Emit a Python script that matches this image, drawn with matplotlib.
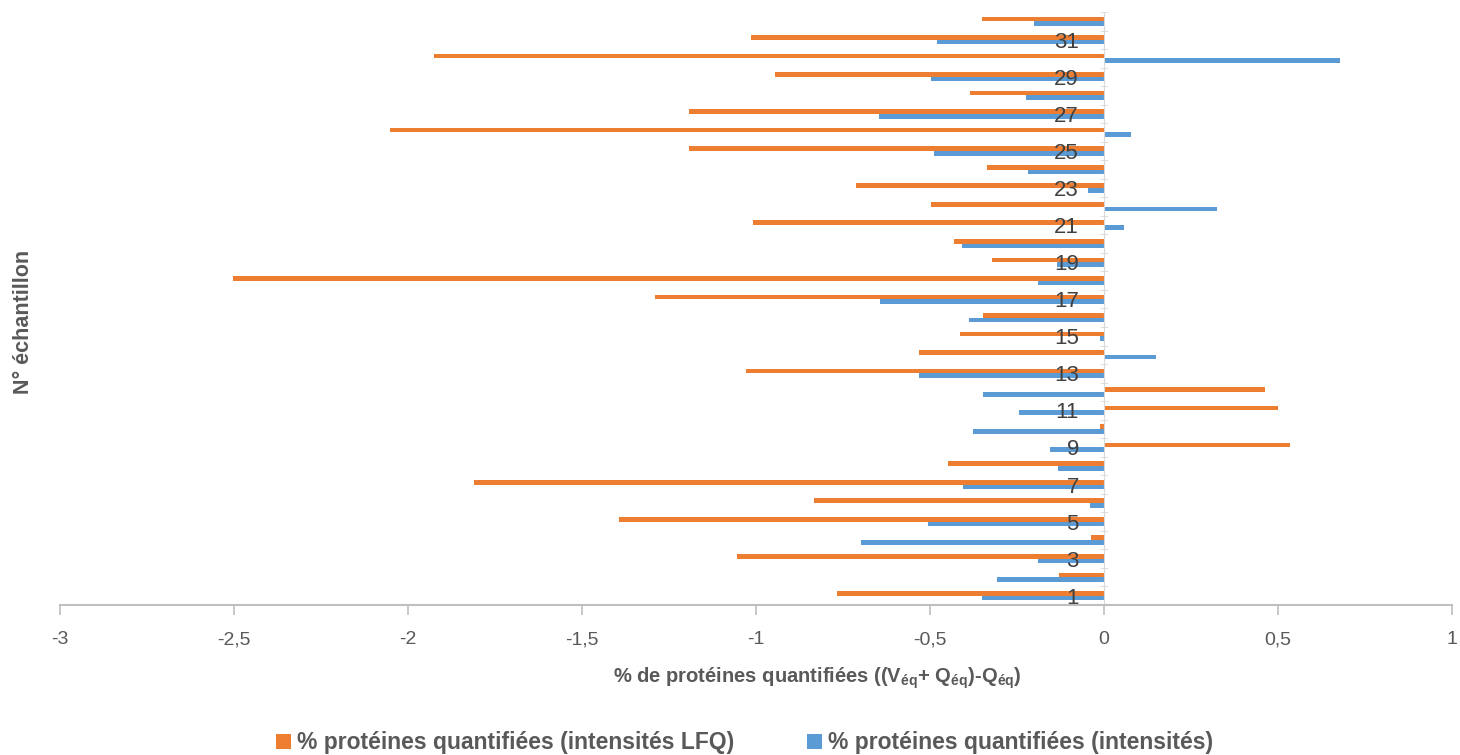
import numpy as np
import matplotlib.pyplot as plt
from matplotlib.ticker import FuncFormatter, FixedLocator

# Données (échantillons 1 à 32)
echantillons = np.arange(1, 33)
lfq = [-0.767, -0.13, -1.053, -0.036, -1.393, -0.832, -1.81, -0.449,
       0.535, -0.012, 0.50, 0.464, -1.027, -0.531, -0.414, -0.348,
       -1.29, -2.503, -0.322, -0.43, -1.009, -0.496, -0.712, -0.336,
       -1.192, -2.051, -1.192, -0.386, -0.945, -1.924, -1.013, -0.35]
intensites = [-0.351, -0.307, -0.19, -0.698, -0.506, -0.04, -0.405, -0.133,
              -0.156, -0.377, -0.243, -0.348, -0.531, 0.149, -0.01, -0.388,
              -0.644, -0.19, -0.136, -0.408, 0.057, 0.324, -0.045, -0.219,
              -0.489, 0.078, -0.646, -0.224, -0.496, 0.68, -0.478, -0.20]
etiquettes_y = [str(n) for n in echantillons if n % 2 == 1]
serie_lfq = "% protéines quantifiées (intensités LFQ)"
serie_int = "% protéines quantifiées (intensités)"

plt.rcParams['font.family'] = ['Liberation Sans', 'DejaVu Sans']
plt.rcParams['mathtext.fontset'] = 'custom'
plt.rcParams['mathtext.bf'] = 'Liberation Sans:bold'
plt.rcParams['mathtext.rm'] = 'Liberation Sans'

orange = '#ED7D31'
bleu = '#5B9BD5'
gris_axe = '#BFBFBF'
gris_texte = '#595959'

fig = plt.figure(figsize=(14.6, 7.55), dpi=100)
ax = fig.add_axes([0.041, 0.1987, 0.9534, 0.7854])

h = 0.25
ax.barh(echantillons + h / 2, lfq, height=h, color=orange, label=serie_lfq)
ax.barh(echantillons - h / 2, intensites, height=h, color=bleu, label=serie_int)

# Axe des x
ax.set_xlim(-3, 1)
ax.set_xticks(np.arange(-3, 1.01, 0.5))
ax.xaxis.set_major_formatter(FuncFormatter(lambda v, p: f"{v:g}".replace('.', ',')))
ax.tick_params(axis='x', length=7, width=1.2, color=gris_axe, labelcolor=gris_texte,
               labelsize=14, pad=12)

# Axe des catégories, placé à x = 0
ax.set_ylim(0.5, 32.5)
ax.spines['left'].set_position(('data', 0))
ax.spines['left'].set_color('#D9D9D9')
ax.spines['bottom'].set_color(gris_axe)
ax.spines['bottom'].set_linewidth(1.5)
ax.spines['top'].set_visible(False)
ax.spines['right'].set_visible(False)
ax.yaxis.set_major_locator(FixedLocator(echantillons[::2]))
ax.set_yticklabels(etiquettes_y)
ax.yaxis.set_minor_locator(FixedLocator(np.arange(0.5, 33, 1)))
ax.tick_params(axis='y', which='major', length=0, pad=18, labelsize=16,
               labelcolor='#404040')
ax.tick_params(axis='y', which='minor', length=6, direction='inout',
               color='#D9D9D9')

fig.text(0.56, 0.102,
         r"% de protéines quantifiées ((V$_{\mathbf{éq}}$+ Q$_{\mathbf{éq}}$)-Q$_{\mathbf{éq}}$)",
         ha='center', va='center', fontsize=14.5, fontweight='bold', color=gris_texte)
fig.text(0.016, 0.573, "N° échantillon", rotation=90, ha='center', va='center',
         fontsize=15.5, fontweight='bold', color=gris_texte)

leg = ax.legend(loc='center', bbox_to_anchor=(0.51, 0.016),
                bbox_transform=fig.transFigure, ncol=2, frameon=False,
                handlelength=0.65, handleheight=0.65, handletextpad=0.25,
                columnspacing=3.2, prop={'size': 16.5, 'weight': 'bold'})
for t in leg.get_texts():
    t.set_color(gris_texte)

fig.savefig('out.png', dpi=100)
